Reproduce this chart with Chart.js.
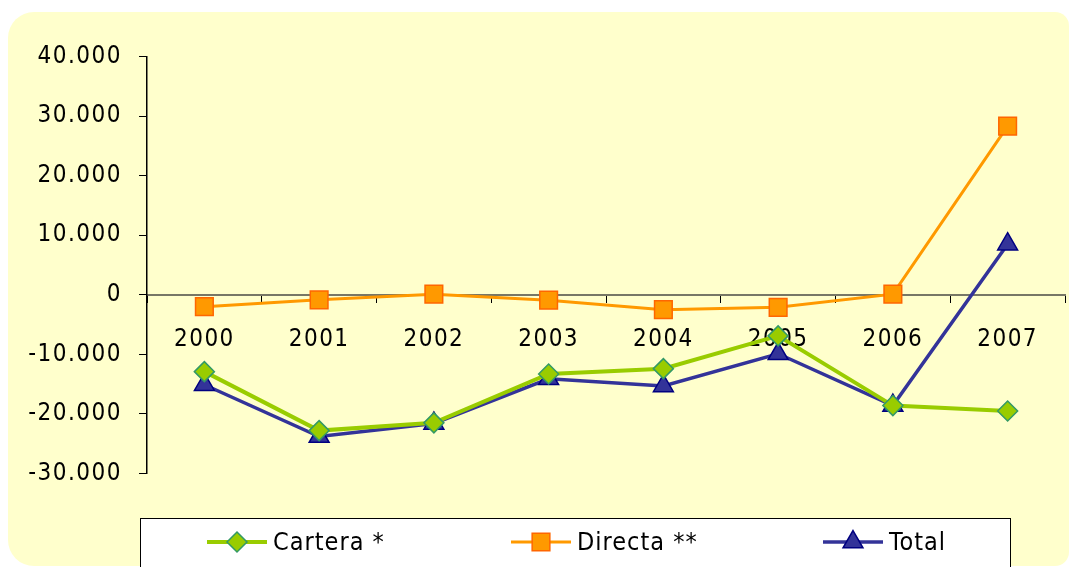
<!DOCTYPE html>
<html>
<head>
<meta charset="utf-8">
<script src="https://cdn.jsdelivr.net/npm/chart.js@4.4.1/dist/chart.umd.min.js"></script>
<style>
  html, body { margin: 0; padding: 0; background: #fff; }
  #wrap { width: 1070px; height: 567px; }
</style>
</head>
<body>
<div id="wrap"><canvas id="chart"></canvas></div>
<script>
// data
const years = ["2000", "2001", "2002", "2003", "2004", "2005", "2006", "2007"];
const cartera = [-12900, -22800, -21500, -13300, -12400, -6900, -18600, -19500];
const directa = [-2000, -850, 100, -900, -2500, -2100, 100, 28300];
const total = [-15100, -23800, -21600, -14100, -15300, -9900, -18600, 8500];
const seriesNames = ["Cartera *", "Directa **", "Total"];

const fontFamily = "'Liberation Sans Narrow', 'DejaVu Sans Condensed', 'Arial Narrow', sans-serif";
Chart.defaults.font.family = fontFamily;
Chart.defaults.font.size = 24;
Chart.defaults.color = "#000";

// 40000 -> "40.000"
const fmt = v => (v < 0 ? "-" : "") + String(Math.abs(v)).replace(/\B(?=(\d{3})+(?!\d))/g, ".");

const panelBackground = {
    id: "panelBackground",
    beforeDraw(chart) {
        let ctx = chart.ctx;
        ctx.save();
        ctx.fillStyle = "#FFFFCC";
        ctx.beginPath();
        ctx.roundRect(8, 12, 1061, 554, [26, 14, 14, 26]);
        ctx.fill();
        ctx.restore();
    }
};

// spaced out lettering like the original
const spacedText = {
    id: "spacedText",
    beforeLayout(chart) { chart.ctx.letterSpacing = "1.5px"; },
    beforeDraw(chart) { chart.ctx.letterSpacing = "1.5px"; }
};

const boxLegend = {
    id: "boxLegend",
    afterDraw(chart) {
        let ctx = chart.ctx;
        let starts = [207, 511, 823];
        let cy = 542;
        ctx.save();
        ctx.fillStyle = "#fff";
        ctx.strokeStyle = "#000";
        ctx.lineWidth = 1;
        ctx.fillRect(140.5, 518.5, 870, 50);
        ctx.strokeRect(140.5, 518.5, 870, 50);
        chart.data.datasets.forEach((ds, i) => {
            let x = starts[i];
            ctx.strokeStyle = ds.borderColor;
            ctx.lineWidth = ds.borderWidth;
            ctx.beginPath();
            ctx.moveTo(x, cy);
            ctx.lineTo(x + 60, cy);
            ctx.stroke();
            ctx.fillStyle = ds.pointBackgroundColor;
            ctx.strokeStyle = ds.pointBorderColor;
            ctx.lineWidth = ds.pointBorderWidth;
            Chart.helpers.drawPoint(ctx, {
                pointStyle: ds.pointStyle,
                radius: ds.pointRadius,
                borderWidth: ds.pointBorderWidth,
                rotation: 0
            }, x + 30, cy);
            ctx.fillStyle = "#000";
            ctx.font = "25px " + fontFamily;
            ctx.letterSpacing = "1px";
            ctx.textBaseline = "middle";
            ctx.textAlign = "left";
            ctx.fillText(ds.label, x + 66, cy + 1);
        });
        ctx.restore();
    }
};

new Chart(document.getElementById("chart"), {
    type: "line",
    data: {
        labels: years,
        datasets: [
            {
                label: seriesNames[0],
                data: cartera,
                borderColor: "#99CC00",
                borderWidth: 4,
                pointStyle: "rectRot",
                pointRadius: 10,
                pointBackgroundColor: "#99CC00",
                pointBorderColor: "#339966",
                pointBorderWidth: 1.5,
                tension: 0
            },
            {
                label: seriesNames[1],
                data: directa,
                borderColor: "#FF9900",
                borderWidth: 3,
                pointStyle: "rect",
                pointRadius: 12.5,
                pointBackgroundColor: "#FF9900",
                pointBorderColor: "#FF6600",
                pointBorderWidth: 1.5,
                tension: 0
            },
            {
                label: seriesNames[2],
                data: total,
                borderColor: "#333399",
                borderWidth: 3.5,
                pointStyle: "triangle",
                pointRadius: 11.5,
                pointBackgroundColor: "#333399",
                pointBorderColor: "#000080",
                pointBorderWidth: 1.5,
                tension: 0
            }
        ]
    },
    options: {
        responsive: true,
        maintainAspectRatio: false,
        animation: false,
        layout: {
            autoPadding: false,
            padding: { left: 0, right: 5, top: 56.5, bottom: 93.5 }
        },
        scales: {
            x: {
                position: { y: 0 },
                offset: true,
                afterFit(scale) {
                    scale.paddingLeft = 0;
                    scale.paddingRight = 0;
                },
                grid: {
                    offset: true,
                    drawOnChartArea: false,
                    tickLength: 7,
                    color: "#000",
                    lineWidth: 1
                },
                border: { color: "#777766", width: 2 },
                ticks: { padding: 24, maxRotation: 0 }
            },
            y: {
                min: -30000,
                max: 40000,
                afterFit(scale) { scale.width = 147; },
                grid: {
                    drawOnChartArea: false,
                    tickLength: 8,
                    color: "#000",
                    lineWidth: 1
                },
                border: { color: "#000", width: 1.5 },
                ticks: {
                    stepSize: 10000,
                    padding: 17,
                    callback: v => fmt(v)
                }
            }
        },
        plugins: {
            legend: { display: false },
            tooltip: { enabled: false }
        }
    },
    plugins: [panelBackground, spacedText, boxLegend]
});
</script>
</body>
</html>
